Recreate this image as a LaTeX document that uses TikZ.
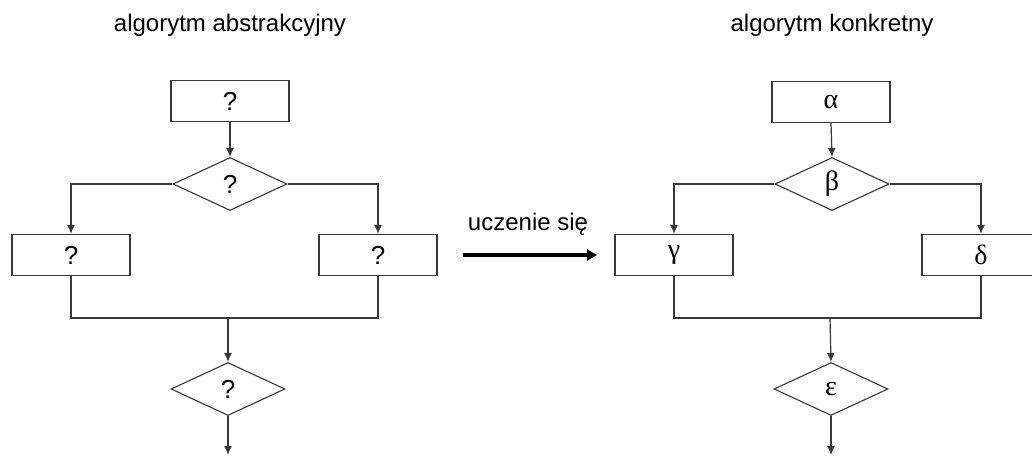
\documentclass[tikz,border=0pt]{standalone}
\usepackage{fontspec}
\setmainfont{Liberation Sans}
\newfontfamily\grk{Liberation Serif}
\usetikzlibrary{shapes.geometric,arrows.meta}
\definecolor{ln}{RGB}{55,55,55}
\begin{document}
\begin{tikzpicture}[x=1pt,y=-1pt,
  every node/.style={inner sep=0pt},
  boxn/.style={draw=ln,line width=1.2pt,rectangle,minimum width=118pt,minimum height=41pt,fill=white,font=\fontsize{26}{26}\selectfont},
  dia/.style={draw=ln,line width=1.1pt,diamond,minimum width=114pt,minimum height=53pt,fill=white,font=\fontsize{26}{26}\selectfont},
  gk/.style={font=\fontsize{28}{28}\grk},
  ttl/.style={font=\fontsize{24}{24}\selectfont},
  conn/.style={draw=ln,line width=1.2pt},
  arr/.style={conn,-{Latex[length=9pt,width=8pt]}}]
\useasboundingbox (0,0) rectangle (1032,455);
% titles
\node[ttl] (tl) at (230,25) {algorytm abstrakcyjny};
\node[ttl] (tr) at (832,25) {algorytm konkretny};
% left diagram
\node[boxn] (t1) at (230,101) {?};
\node[dia] (d1) at (230,184) {?};
\node[boxn] (b1) at (71,255) {?};
\node[boxn] (b2) at (378,255) {?};
\coordinate (j1) at (228,318);
\node[dia] (d2) at (228,389) {?};
\coordinate (e1) at (228,455);
\draw[arr] (t1.south) -- (d1.north);
\draw[arr] (d1.west) -| (b1.north);
\draw[arr] (d1.east) -| (b2.north);
\draw[conn] (b1.south) |- (j1);
\draw[conn] (b2.south) |- (j1);
\draw[arr] (j1) -- (d2.north);
\draw[arr] (d2.south) -- (e1);
% middle arrow
\coordinate (a1) at (463,255);
\coordinate (a2) at (597,255);
\node[font=\fontsize{24}{24}\selectfont] (lab) at (528,224) {uczenie się};
\draw[line width=4.5pt,black,-{Triangle[length=10pt,width=11pt]}] (a1) -- (a2);
% right diagram
\node[boxn,gk] (t2) at (831,102) {α};
\node[dia,gk] (d3) at (832,184) {β};
\node[boxn,gk] (b3) at (674,255) {γ};
\node[boxn,gk] (b4) at (981,255) {δ};
\coordinate (j2) at (830,318);
\node[dia,gk] (d4) at (831,389) {ε};
\coordinate (e2) at (831,455);
\draw[arr] (t2.south) -- (d3.north);
\draw[arr] (d3.west) -| (b3.north);
\draw[arr] (d3.east) -| (b4.north);
\draw[conn] (b3.south) |- (j2);
\draw[conn] (b4.south) |- (j2);
\draw[arr] (j2) -- (d4.north);
\draw[arr] (d4.south) -- (e2);
\end{tikzpicture}
\end{document}
